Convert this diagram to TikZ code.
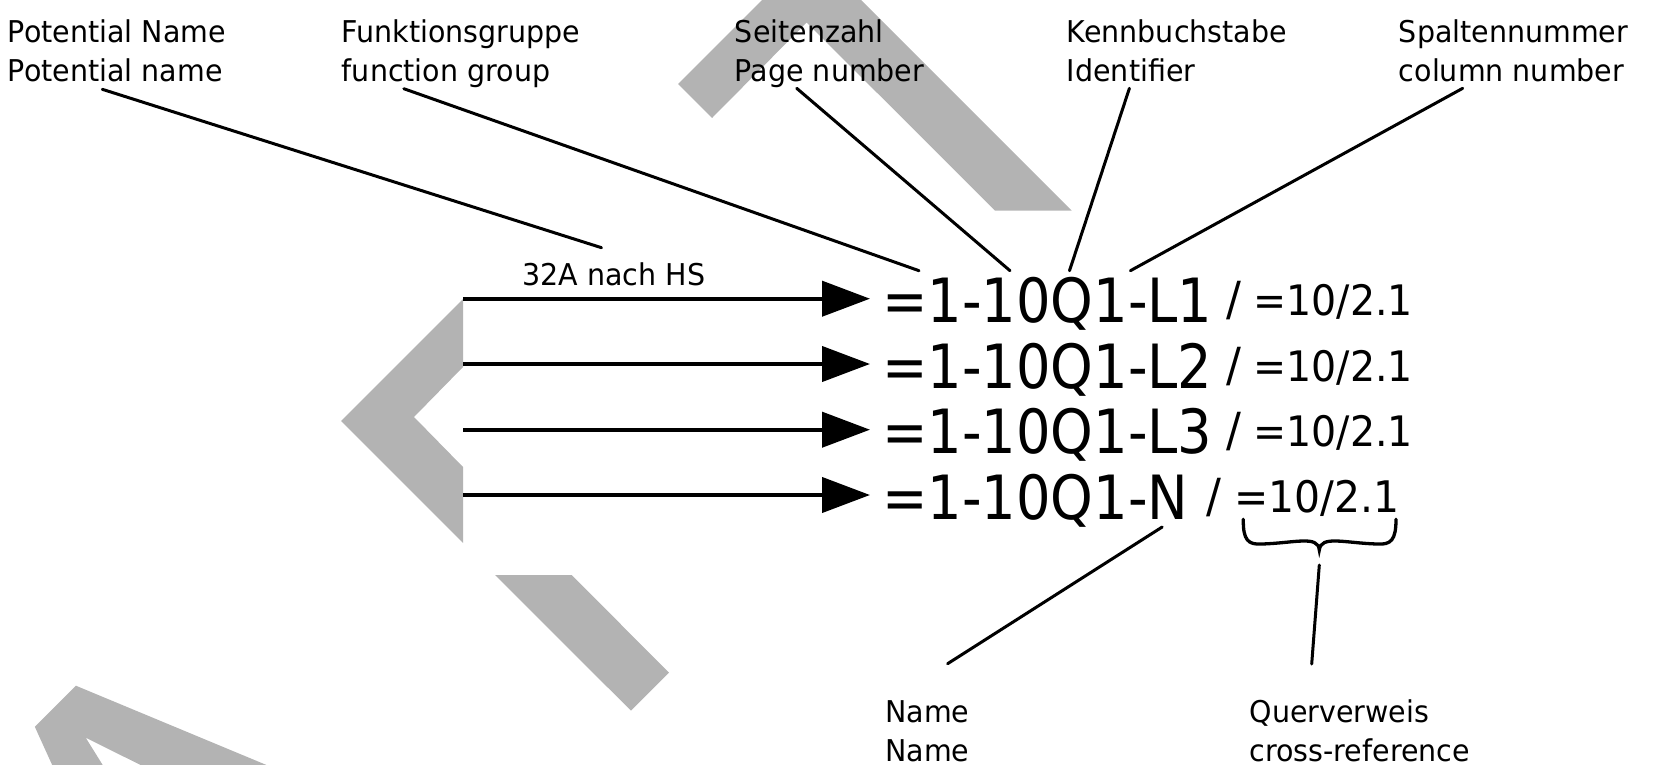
\documentclass[tikz,border=0pt]{standalone}
\usepackage{fontspec}
\usetikzlibrary{arrows.meta}
\newfontfamily\lblfont[FakeStretch=0.95]{DejaVu Sans}
\newfontfamily\bigfont[FakeStretch=0.89]{DejaVu Sans}
\newfontfamily\reffont[FakeStretch=0.94]{DejaVu Sans}
\definecolor{wm}{RGB}{179,179,179}
\begin{document}
\begin{tikzpicture}[x=1pt,y=-1pt,
  lbl/.style={font={\lblfont\fontsize{30}{38.5}\selectfont}, inner sep=0pt, align=left, anchor=base west},
  bigtxt/.style={font={\bigfont\fontsize{61}{61}\selectfont}, inner sep=0pt, anchor=base west},
  reftxt/.style={font={\reffont\fontsize{42}{42}\selectfont}, inner sep=0pt, anchor=base west},
  wire/.style={line width=4.2pt, -{Triangle[length=48pt,width=35pt]}},
  leader/.style={line width=3pt, line cap=round},
  bracestyle/.style={line width=3.3pt, line cap=round},
  wmark/.style={fill=wm, draw=none}]

\useasboundingbox (0,0) rectangle (1662,765);

% watermark fragments
\fill[wmark] (678,84) -- (712,118) -- (806.7,22.5) -- (995,210.7) -- (1071.7,210.7) -- (861,0) -- (762,0) -- cycle;
\fill[wmark] (341,421) -- (463,299) -- (463,367) -- (414,417) -- (463,467) -- (463,543) -- cycle;
\fill[wmark] (495,575) -- (571.7,575) -- (669,672.7) -- (631,710.7) -- cycle;
\fill[wmark] (75.9,685.7) -- (266.5,765) -- (140.6,765) -- (85.7,737.7) -- (102.7,765) -- (52.2,765) -- (34.8,726.7) -- cycle;

% labels (base anchor = baseline of the last line)
\node[lbl] (pn) at (7.8,81.5) {Potential Name\\Potential name};
\node[lbl] (fg) at (341.7,81.5) {Funktionsgruppe\\function group};
\node[lbl] (sz) at (734.7,81.5) {Seitenzahl\\Page number};
\node[lbl] (kb) at (1066.7,81.5) {Kennbuchstabe\\Identifier};
\node[lbl] (sn) at (1398.7,81.5) {Spaltennummer\\column number};
\node[lbl] (nm) at (885.2,761.3) {Name\\Name};
\node[lbl] (qv) at (1249.4,761.3) {Querverweis\\cross-reference};
\node[lbl] (hs) at (522.3,285) {32A nach HS};

% designations
\node[bigtxt] (t1) at (882,322.7) {=1-10Q1-L1};
\node[bigtxt] (t2) at (882,388.3) {=1-10Q1-L2};
\node[bigtxt] (t3) at (882,453.5) {=1-10Q1-L3};
\node[bigtxt] (t4) at (882,519.5) {=1-10Q1-N};

\node[reftxt] (r1) at (1226,315.7) {{\fontsize{47}{47}\selectfont/} =10/2.1};
\node[reftxt] (r2) at (1226,381.3) {{\fontsize{47}{47}\selectfont/} =10/2.1};
\node[reftxt] (r3) at (1226,446.5) {{\fontsize{47}{47}\selectfont/} =10/2.1};
\node[reftxt, font={\reffont\fontsize{43.5}{43.5}\selectfont}] (r4) at (1206,512.7) {{\fontsize{47}{47}\selectfont/} =10/2.1};

% wires
\coordinate (w1) at (463,298.7);
\coordinate (w2) at (463,364);
\coordinate (w3) at (463,429.7);
\coordinate (w4) at (463,495);
\draw[wire] (w1) -- ([xshift=-12pt]t1.west |- w1);
\draw[wire] (w2) -- ([xshift=-12pt]t2.west |- w2);
\draw[wire] (w3) -- ([xshift=-12pt]t3.west |- w3);
\draw[wire] (w4) -- ([xshift=-12pt]t4.west |- w4);

% leader lines
\coordinate (a1) at (102.3,89.3);  \coordinate (b1) at (601.5,247.7);
\coordinate (a2) at (403.8,88.7);  \coordinate (b2) at (919,270.7);
\coordinate (a3) at (796.7,88.3);  \coordinate (b3) at (1010,270.7);
\coordinate (a4) at (1129.4,88.3); \coordinate (b4) at (1069.5,270.7);
\coordinate (a5) at (1462.7,88.3); \coordinate (b5) at (1130.4,270.7);
\coordinate (a6) at (947.6,663.7); \coordinate (b6) at (1162.2,527);
\coordinate (a7) at (1311.7,664);  \coordinate (b7) at (1319.3,565);
\draw[leader] (a1) -- (b1);
\draw[leader] (a2) -- (b2);
\draw[leader] (a3) -- (b3);
\draw[leader] (a4) -- (b4);
\draw[leader] (a5) -- (b5);
\draw[leader] (a6) -- (b6);
\draw[leader] (a7) -- (b7);

% brace
\draw[bracestyle] (1243.3,519.3) .. controls (1243,540) and (1248,545) .. (1262,544)
  .. controls (1295,543) and (1318,535) .. (1319.3,550)
  .. controls (1321,535) and (1344,543) .. (1377,544)
  .. controls (1391,545) and (1396,540) .. (1396,519.3);
\end{tikzpicture}
\end{document}
